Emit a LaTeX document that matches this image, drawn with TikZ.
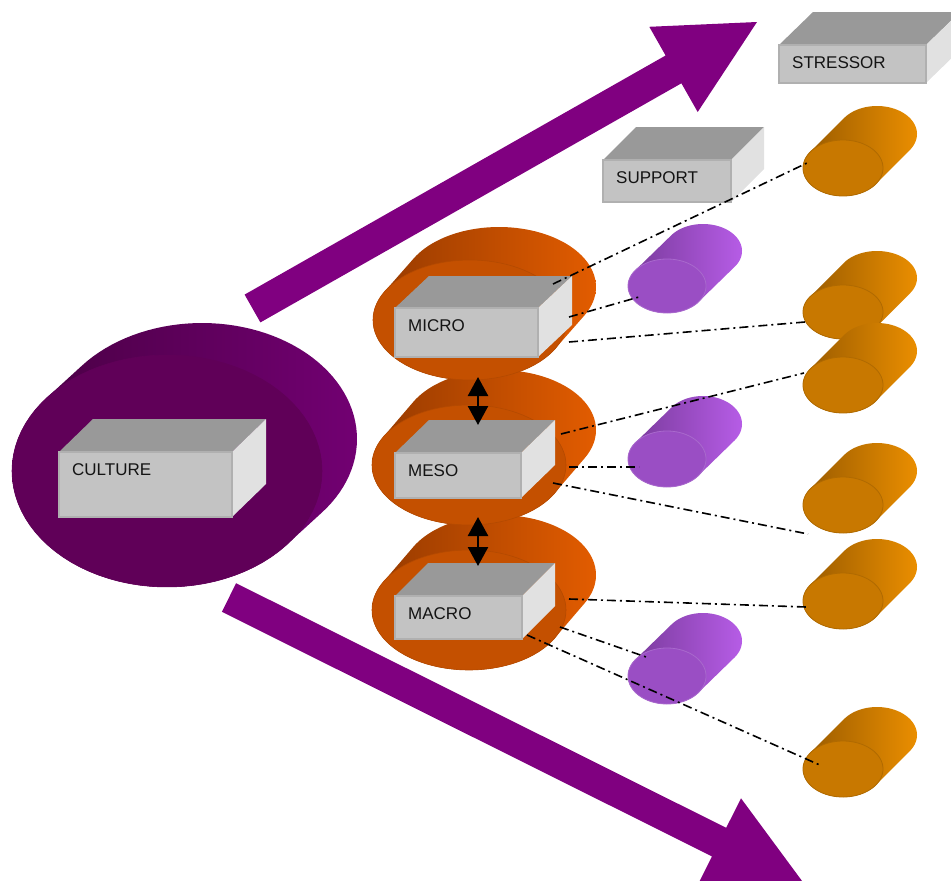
\documentclass[tikz,border=0pt]{standalone}
\usepackage{fontspec}
\setmainfont{Liberation Sans}
\usetikzlibrary{arrows.meta}
\definecolor{arrowP}{RGB}{128,0,128}
\definecolor{plumF}{RGB}{96,0,88}
\definecolor{plumD}{RGB}{72,0,66}
\definecolor{plumL}{RGB}{114,0,114}
\definecolor{rustF}{RGB}{196,80,0}
\definecolor{rustD}{RGB}{150,58,0}
\definecolor{rustL}{RGB}{226,92,0}
\definecolor{violF}{RGB}{154,78,196}
\definecolor{violD}{RGB}{120,58,154}
\definecolor{violL}{RGB}{182,92,230}
\definecolor{ambF}{RGB}{200,120,0}
\definecolor{ambD}{RGB}{152,90,0}
\definecolor{ambL}{RGB}{234,142,0}
\definecolor{boxF}{RGB}{195,195,195}
\definecolor{boxT}{RGB}{153,153,153}
\definecolor{boxS}{RGB}{225,225,225}
\definecolor{boxE}{RGB}{176,176,176}

\newcommand\cyl[8]{%
  \pgfmathsetmacro\cylta{atan2(-(#5)*(#6),(#4)*(#7))}%
  \pgfmathsetmacro\cyltb{\cylta+180}%
  \pgfmathsetmacro\cyltc{\cylta-180}%
  \shade[#8side] ({#2+#4*cos(\cyltb)},{#3+#5*sin(\cyltb)})
    -- ({#2+(#6)+#4*cos(\cyltb)},{#3+(#7)+#5*sin(\cyltb)})
    -- plot[domain=\cyltb:\cylta,samples=61] ({#2+(#6)+#4*cos(\x)},{#3+(#7)+#5*sin(\x)})
    -- ({#2+#4*cos(\cylta)},{#3+#5*sin(\cylta)})
    -- plot[domain=\cylta:\cyltc,samples=61] ({#2+#4*cos(\x)},{#3+#5*sin(\x)}) -- cycle;
  \filldraw[#8face] plot[domain=0:360,samples=91] ({#2+#4*cos(\x)},{#3+#5*sin(\x)}) -- cycle;
  \coordinate (#1) at (#2,#3);
}

\newcommand\slab[8]{%
  \fill[boxT] (#2,#3) -- ({#2+(#6)},{#3+(#7)}) -- ({#4+(#6)},{#3+(#7)}) -- (#4,#3) -- cycle;
  \fill[boxS] (#4,#3) -- ({#4+(#6)},{#3+(#7)}) -- ({#4+(#6)},{#5+(#7)}) -- (#4,#5) -- cycle;
  \filldraw[fill=boxF, draw=boxE, line width=1.2pt] (#2,#3) rectangle (#4,#5);
  \node[boxlabel] (#1) at ({#2+13},{#3+17.5}) {#8};
}

\tikzset{
  plumside/.style={left color=plumD, right color=plumL},
  plumface/.style={fill=plumF, draw=plumF, line width=0.6pt},
  rustside/.style={left color=rustD, right color=rustL},
  rustface/.style={fill=rustF, draw=rustF!92!black, line width=0.6pt},
  violside/.style={left color=violD, right color=violL},
  violface/.style={fill=violF, draw=violF!85!white, line width=0.8pt},
  ambside/.style={left color=ambD, right color=ambL},
  ambface/.style={fill=ambF, draw=ambF!88!black, line width=0.8pt},
  boxlabel/.style={anchor=west, inner sep=0pt, font=\fontsize{17}{20}\selectfont, text=black!92},
  bigarrow/.style={fill=arrowP},
  conn/.style={line width=1.6pt, dash pattern=on 9pt off 4pt on 2pt off 4pt},
  dbl/.style={line width=2.5pt, {Triangle[length=19pt,width=20pt]}-{Triangle[length=19pt,width=20pt]}}
}

\begin{document}
\begin{tikzpicture}[x=1pt,y=-1pt]
\useasboundingbox (0,0) rectangle (951,881);

% big purple arrows
\coordinate (ua1) at (244.6,294.6);
\coordinate (ua2) at (665.6,55.5);
\coordinate (ua3) at (649.3,26.8);
\coordinate (uatip) at (757,22);
\coordinate (ua5) at (697.7,112.0);
\coordinate (ua6) at (681.4,83.3);
\coordinate (ua7) at (260.4,322.4);
\fill[bigarrow] (ua1) -- (ua2) -- (ua3) -- (uatip) -- (ua5) -- (ua6) -- (ua7) -- cycle;
\coordinate (la1) at (236.1,583.2);
\coordinate (la2) at (726.2,827.8);
\coordinate (la3) at (741.0,798.3);
\coordinate (latip) at (805,885);
\coordinate (la5) at (697.2,885.9);
\coordinate (la6) at (712.0,856.4);
\coordinate (la7) at (221.9,611.8);
\fill[bigarrow] (la1) -- (la2) -- (la3) -- (latip) -- (la5) -- (la6) -- (la7) -- cycle;

% culture disk
\cyl{culturedisk}{167}{471}{155}{116}{35}{-32}{plum}
\slab{culture}{59}{452}{232}{517}{34}{-33}{CULTURE}

% level disks (upper ones on top)
\cyl{macrodisk}{469}{610}{97}{60}{30}{-35}{rust}
\cyl{mesodisk}{469}{465}{97}{60}{30}{-35}{rust}
\cyl{microdisk}{470}{320}{97}{60}{29}{-33}{rust}
\slab{macro}{395}{596}{522}{639}{33}{-33}{MACRO}
\slab{meso}{395}{453}{521}{498}{34}{-33}{MESO}
\slab{micro}{395}{308}{538}{357}{34}{-32}{MICRO}

% header boxes
\slab{stressor}{779}{45}{926}{83}{34}{-33}{STRESSOR}
\slab{support}{603}{160}{731}{202}{33}{-33}{SUPPORT}

% purple cylinders
\cyl{v1}{667}{286}{39}{27}{36}{-35}{viol}
\cyl{v2}{667}{459}{39}{28}{36}{-35}{viol}
\cyl{v3}{667}{676}{39}{28}{36}{-35}{viol}

% amber cylinders (lower ones on top)
\cyl{a1}{843}{168}{40}{28}{34}{-34}{amb}
\cyl{a2}{843}{312}{40}{27}{34}{-34}{amb}
\cyl{a3}{843}{385}{40}{28}{34}{-34}{amb}
\cyl{a4}{843}{505}{40}{28}{34}{-34}{amb}
\cyl{a5}{843}{601}{40}{28}{34}{-34}{amb}
\cyl{a6}{843}{769}{40}{28}{34}{-34}{amb}

% double arrows between levels
\coordinate (d1a) at (478,377);
\coordinate (d1b) at (478,425);
\coordinate (d2a) at (478,517);
\coordinate (d2b) at (478,566);
\draw[dbl] (d1a) -- (d1b);
\draw[dbl] (d2a) -- (d2b);

% dash-dot connectors
\coordinate (c1s) at (553,284); \coordinate (c1e) at (807,163);
\coordinate (c2s) at (569,317); \coordinate (c2e) at (639,297);
\coordinate (c3s) at (569,342); \coordinate (c3e) at (805,322);
\coordinate (c4s) at (561,434); \coordinate (c4e) at (804,373);
\coordinate (c5s) at (569,467); \coordinate (c5e) at (639,467);
\coordinate (c6s) at (553,483); \coordinate (c6e) at (808,534);
\coordinate (c7s) at (569,599); \coordinate (c7e) at (806,607);
\coordinate (c8s) at (560,627); \coordinate (c8e) at (649,658);
\coordinate (c9s) at (527,635); \coordinate (c9e) at (822,766);
\foreach \k in {1,...,9} { \draw[conn] (c\k s) -- (c\k e); }
\end{tikzpicture}
\end{document}
